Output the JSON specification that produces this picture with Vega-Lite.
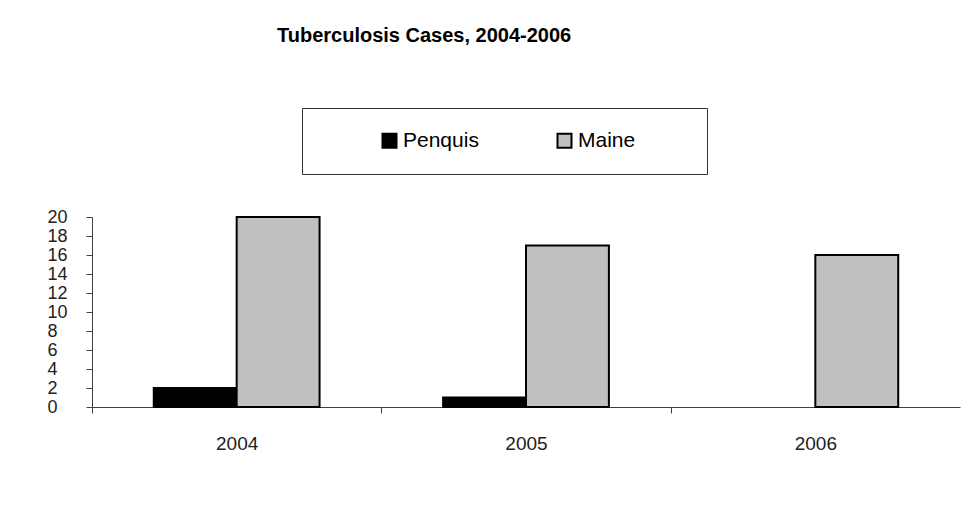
{
  "$schema": "https://vega.github.io/schema/vega-lite/v6.json",
  "width": 868,
  "height": 190,
  "autosize": {"type": "none"},
  "padding": {"left": 92, "top": 217, "right": 17, "bottom": 99},
  "background": "white",
  "data": {
    "values": [
      {"year": "2004", "region": "Penquis", "cases": 2},
      {"year": "2004", "region": "Maine", "cases": 20},
      {"year": "2005", "region": "Penquis", "cases": 1},
      {"year": "2005", "region": "Maine", "cases": 17},
      {"year": "2006", "region": "Penquis", "cases": 0},
      {"year": "2006", "region": "Maine", "cases": 16}
    ]
  },
  "title": {
    "text": "Tuberculosis Cases, 2004-2006",
    "anchor": "start",
    "frame": "group",
    "dx": 185,
    "offset": 46,
    "baseline": "alphabetic",
    "font": "Liberation Sans",
    "fontSize": 20,
    "fontWeight": "bold",
    "color": "black"
  },
  "mark": {"type": "bar", "stroke": "black", "strokeWidth": 2},
  "encoding": {
    "x": {
      "field": "year",
      "type": "nominal",
      "scale": {"paddingInner": 0.427, "paddingOuter": 0.2135},
      "axis": {
        "title": null,
        "labelAngle": 0,
        "domainColor": "#404040",
        "tickColor": "#404040",
        "tickSize": 6,
        "bandPosition": 0.5,
        "tickOffset": -144.67,
        "labelOffset": 144.67,
        "labelFont": "Liberation Sans",
        "labelFontSize": 19,
        "labelColor": "#222222",
        "labelBaseline": "alphabetic",
        "labelPadding": 36
      }
    },
    "xOffset": {
      "field": "region",
      "sort": ["Penquis", "Maine"],
      "scale": {"paddingInner": 0, "paddingOuter": 0}
    },
    "y": {
      "field": "cases",
      "type": "quantitative",
      "scale": {"domain": [0, 20], "nice": false},
      "axis": {
        "title": null,
        "values": [0, 2, 4, 6, 8, 10, 12, 14, 16, 18, 20],
        "grid": false,
        "domainColor": "#404040",
        "tickColor": "#404040",
        "tickSize": 6,
        "labelAlign": "left",
        "labelBaseline": "middle",
        "labelPadding": 39,
        "labelFont": "Liberation Sans",
        "labelFontSize": 18,
        "labelColor": "#222222"
      }
    },
    "color": {
      "field": "region",
      "type": "nominal",
      "sort": ["Penquis", "Maine"],
      "scale": {"range": ["#000000", "#c0c0c0"]},
      "legend": {
        "orient": "none",
        "legendX": 210,
        "legendY": -109,
        "direction": "horizontal",
        "columns": 2,
        "gridAlign": "all",
        "strokeColor": "#333333",
        "padding": 22,
        "title": " ",
        "titleOrient": "right",
        "titleFontSize": 1,
        "titlePadding": 50,
        "symbolType": "square",
        "symbolSize": 196,
        "symbolOffset": 55,
        "symbolStrokeColor": "black",
        "symbolStrokeWidth": 2,
        "labelFont": "Liberation Sans",
        "labelFontSize": 21,
        "labelColor": "black",
        "labelOffset": 3,
        "columnPadding": 20
      }
    },
    "strokeOpacity": {
      "condition": {"test": "datum.cases > 0", "value": 1},
      "value": 0
    }
  },
  "config": {"view": {"stroke": null}}
}
